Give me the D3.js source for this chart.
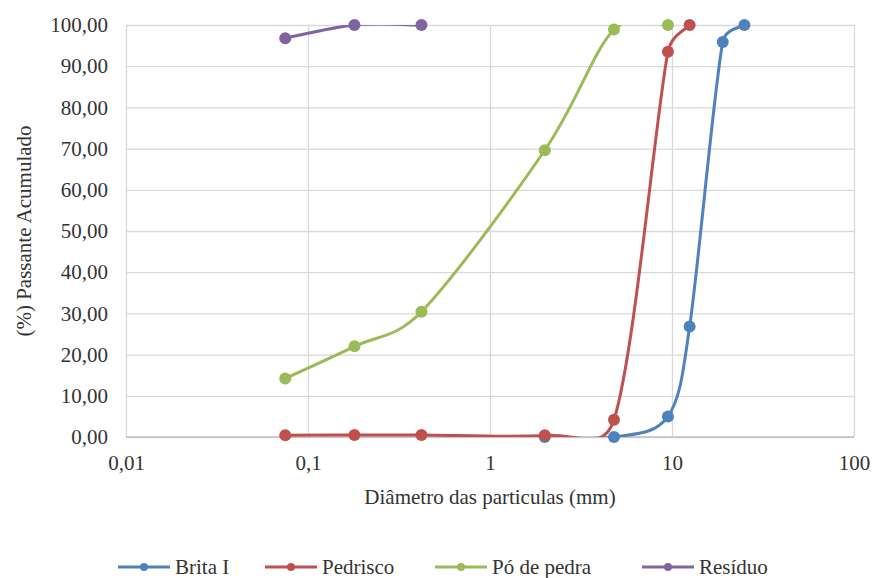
<!DOCTYPE html>
<html>
<head>
<meta charset="utf-8">
<script src="https://cdn.jsdelivr.net/npm/d3@7"></script>
<style>
  body { margin: 0; background: #fff; }
</style>
</head>
<body>
<div id="chart_div"></div>
<script>
//sieve sizes (mm)
var sieves = [0.075, 0.18, 0.42, 2.0, 4.8, 9.5, 12.5, 19, 25];

//cumulative passing (%) per material, null = not measured
var britaValues = [null, null, null, 0, 0, 5, 26.8, 95.9, 100];
var pedriscoValues = [0.4, 0.5, 0.5, 0.4, 4.2, 93.5, 100, null, null];
var poValues = [14.2, 22.0, 30.4, 69.6, 98.9, 100, null, null, null];
var residuoValues = [96.8, 100, 100, null, null, null, null, null, null];

var seriesNames = ["Brita I", "Pedrisco", "Pó de pedra", "Resíduo"];
var seriesColors = ["#4F81BD", "#C0504D", "#9BBB59", "#8064A2"];

var xTicks = [0.01, 0.1, 1, 10, 100];
var yTicks = [0, 10, 20, 30, 40, 50, 60, 70, 80, 90, 100];

var width = 874;
var height = 578;
var margin = { left: 126, right: 20, top: 25, bottom: 141 };
var serif = "Liberation Serif";

var svg = d3.select("#chart_div").append("svg")
  .attr("width", width)
  .attr("height", height)
  .attr("font-family", serif);

var x = d3.scaleLog()
  .domain([0.01, 100])
  .range([margin.left, width - margin.right]);

var y = d3.scaleLinear()
  .domain([0, 100])
  .range([height - margin.bottom, margin.top]);

var fmt = d3.format(".2f");
var comma = function (v) { return fmt(v).replace(".", ","); };

//clip lines to plot area (like Excel does)
svg.append("clipPath").attr("id", "plotClip")
  .append("rect")
  .attr("x", x(0.01))
  .attr("y", y(100))
  .attr("width", x(100) - x(0.01))
  .attr("height", y(0) - y(100));

//horizontal gridlines
svg.append("g")
  .attr("transform", `translate(${x(0.01)},0)`)
  .call(d3.axisLeft(y).tickValues(yTicks).tickSize(-(x(100) - x(0.01))).tickFormat(comma).tickPadding(18))
  .attr("font-family", serif)
  .attr("font-size", 21)
  .call(g => g.select(".domain").remove())
  .call(g => g.selectAll("line").attr("stroke", "#d9d9d9").attr("stroke-width", 1.3))
  .call(g => g.selectAll("text").attr("fill", "#333"));

//vertical gridlines at decades
svg.append("g")
  .attr("transform", `translate(0,${y(0)})`)
  .call(d3.axisBottom(x).tickValues(xTicks).tickSize(-(y(0) - y(100)))
    .tickFormat(d => String(d).replace(".", ",")).tickPadding(18))
  .attr("font-family", serif)
  .attr("font-size", 21)
  .call(g => g.select(".domain").remove())
  .call(g => g.selectAll("line").attr("stroke", "#d9d9d9").attr("stroke-width", 1.3))
  .call(g => g.selectAll("text").attr("fill", "#333"));

//bottom axis line
svg.append("line")
  .attr("x1", x(0.01)).attr("x2", x(100))
  .attr("y1", y(0)).attr("y2", y(0))
  .attr("stroke", "#bfbfbf").attr("stroke-width", 1.3);

//axis titles
svg.append("text")
  .attr("x", (x(0.01) + x(100)) / 2)
  .attr("y", 504)
  .attr("text-anchor", "middle")
  .attr("font-size", 21)
  .attr("fill", "#333")
  .text("Diâmetro das particulas (mm)");

svg.append("text")
  .attr("transform", `translate(31,${(y(0) + y(100)) / 2}) rotate(-90)`)
  .attr("text-anchor", "middle")
  .attr("font-size", 21)
  .attr("fill", "#333")
  .text("(%) Passante Acumulado");

/* Excel-like smoothed line: cubic bezier, tangent (p2-p0)/6,
   control distance capped at half of the segment */
function excelSmooth(p) {
  let path = d3.path();
  let dist = (a, b) => Math.hypot(b[0] - a[0], b[1] - a[1]);
  path.moveTo(p[0][0], p[0][1]);
  for (let i = 0; i < p.length - 1; i++) {
    let p0 = p[i > 0 ? i - 1 : i], p1 = p[i], p2 = p[i + 1], p3 = p[i + 2 < p.length ? i + 2 : i + 1];
    let d12 = dist(p1, p2), d02 = dist(p0, p2), d13 = dist(p1, p3);
    let f0 = (d02 / 6 < d12 / 2) ? 1 / 6 : d12 / d02 / 2;
    let f1 = (d13 / 6 < d12 / 2) ? 1 / 6 : d12 / d13 / 2;
    path.bezierCurveTo(
      p1[0] + (p2[0] - p0[0]) * f0, p1[1] + (p2[1] - p0[1]) * f0,
      p2[0] - (p3[0] - p1[0]) * f1, p2[1] - (p3[1] - p1[1]) * f1,
      p2[0], p2[1]);
  }
  return path.toString();
}

//series
var allValues = [britaValues, pedriscoValues, poValues, residuoValues];

for (let i = 0; i < allValues.length; i++) {
  let pts = sieves.map((s, k) => ({ s: s, v: allValues[i][k] })).filter(d => d.v != null);

  svg.append("path")
    .datum(pts)
    .attr("clip-path", "url(#plotClip)")
    .attr("fill", "none")
    .attr("stroke", seriesColors[i])
    .attr("stroke-width", 3)
    .attr("d", d => excelSmooth(d.map(e => [x(e.s), y(e.v)])));

  svg.selectAll(null)
    .data(pts)
    .enter().append("circle")
    .attr("cx", d => x(d.s))
    .attr("cy", d => y(d.v))
    .attr("r", 6)
    .attr("fill", seriesColors[i]);
}

//legend
var legendX = [118, 265, 435, 642];
var legend = svg.append("g");
for (let i = 0; i < seriesNames.length; i++) {
  let g = legend.append("g").attr("transform", `translate(${legendX[i]},567)`);
  g.append("line").attr("x1", 0).attr("x2", 52).attr("y1", 0).attr("y2", 0)
    .attr("stroke", seriesColors[i]).attr("stroke-width", 3);
  g.append("circle").attr("cx", 26).attr("cy", 0).attr("r", 4).attr("fill", seriesColors[i]);
  g.append("text").attr("x", 57).attr("y", 7).attr("font-size", 21).attr("fill", "#333").text(seriesNames[i]);
}
</script>
</body>
</html>
